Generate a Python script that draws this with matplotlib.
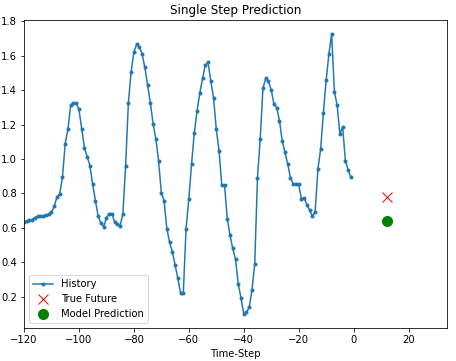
import matplotlib
matplotlib.use("Agg")
import matplotlib.pyplot as plt
import numpy as np

# dados
passos = list(range(-120, 0))
historico = [
    0.634, 0.638, 0.644, 0.648, 0.659, 0.667, 0.667, 0.671, 0.673, 0.680,
    0.690, 0.725, 0.779, 0.798, 0.894, 1.090, 1.173, 1.314, 1.327, 1.327,
    1.289, 1.177, 1.067, 1.013, 0.962, 0.852, 0.758, 0.668, 0.628, 0.607,
    0.656, 0.683, 0.683, 0.634, 0.620, 0.613, 0.681, 0.962, 1.327, 1.506,
    1.622, 1.666, 1.653, 1.610, 1.533, 1.429, 1.327, 1.205, 1.118, 0.988,
    0.805, 0.756, 0.596, 0.515, 0.461, 0.384, 0.307, 0.220, 0.220, 0.596,
    0.766, 0.972, 1.151, 1.280, 1.382, 1.469, 1.545, 1.563, 1.453, 1.357,
    1.174, 1.049, 0.850, 0.850, 0.654, 0.557, 0.480, 0.417, 0.274, 0.192,
    0.099, 0.108, 0.139, 0.239, 0.389, 0.892, 1.117, 1.413, 1.469, 1.451,
    1.403, 1.318, 1.299, 1.224, 1.106, 1.039, 0.973, 0.890, 0.856, 0.855,
    0.852, 0.769, 0.774, 0.734, 0.702, 0.667, 0.694, 0.942, 1.058, 1.270,
    1.457, 1.611, 1.727, 1.391, 1.314, 1.145, 1.187, 0.991, 0.938, 0.894,
]
futuro = 12
valor_real = 0.779
valor_previsto = 0.640

fig = plt.figure(figsize=(456 / 72, 361 / 72), dpi=72)
ax = fig.add_axes([24 / 456, 1 - 328 / 361, (447 - 24) / 456, (328 - 20) / 361])

ax.plot(passos, historico, '.-', label='History')
ax.plot(futuro, valor_real, 'rx', markersize=10, label='True Future')
ax.plot(futuro, valor_previsto, 'go', markersize=10, label='Model Prediction')

ax.set_title('Single Step Prediction')
ax.set_xlabel('Time-Step')
ax.set_xlim(-120, 34)
ax.legend(loc='lower left')

fig.savefig('out.png', dpi=72)
